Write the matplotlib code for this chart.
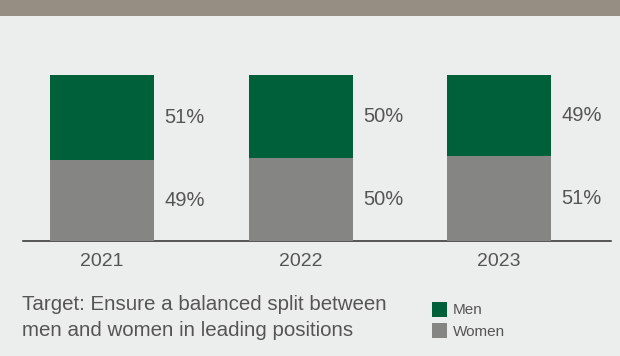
import matplotlib.pyplot as plt
from matplotlib.patches import Rectangle

# share of leading positions by gender, per year
years = ['2021', '2022', '2023']
women = [49, 50, 51]
men = [51, 50, 49]
series_names = ['Men', 'Women']
note_lines = ['Target: Ensure a balanced split between',
              'men and women in leading positions']

green = '#006039'
grey = '#858584'
bg = '#eceeed'
band = '#968d83'
txt = '#555555'

plt.rcParams['font.family'] = ['Liberation Sans', 'DejaVu Sans']

W, H = 620, 356
fig = plt.figure(figsize=(W / 100, H / 100), dpi=100, facecolor=bg)

# header strip along the top edge
fig.add_artist(Rectangle((0, 1 - 16 / H), 1, 16 / H, transform=fig.transFigure,
                         facecolor=band, edgecolor='none'))

ax = fig.add_axes([23 / W, 115 / H, 588 / W, 166 / H])
ax.set_facecolor(bg)
x = range(len(years))
bw = 0.524
ax.bar(x, women, bw, color=grey, zorder=3)
ax.bar(x, men, bw, bottom=women, color=green, zorder=3)

ax.set_xlim(-0.398, 2.564)
ax.set_ylim(0, 100)
for s in ['top', 'right', 'left']:
    ax.spines[s].set_visible(False)
ax.spines['bottom'].set_color('#2b2b2b')
ax.spines['bottom'].set_linewidth(1.1)
ax.set_yticks([])
ax.set_xticks([])

# percentage labels to the right of each segment, year labels below
for i in x:
    ax.annotate(f'{women[i]}%', (i + bw / 2, women[i] / 2), xytext=(7.5, 0),
                textcoords='offset points', ha='left', va='center',
                fontsize=14.5, color=txt)
    ax.annotate(f'{men[i]}%', (i + bw / 2, women[i] + men[i] / 2), xytext=(7.5, 0),
                textcoords='offset points', ha='left', va='center',
                fontsize=14.5, color=txt)
    ax.annotate(years[i], (i, 0), xytext=(0, -14.4), textcoords='offset points',
                ha='center', va='center', fontsize=14, color=txt,
                annotation_clip=False)

# target note
for k, line in enumerate(note_lines):
    fig.text(22 / W, 1 - (305 + 25 * k) / H, line, ha='left', va='center',
             fontsize=14.8, color=txt)

# legend
for k, (name, col) in enumerate(zip(series_names, [green, grey])):
    top = 302 + 21 * k
    fig.add_artist(Rectangle((432 / W, 1 - (top + 15) / H), 15 / W, 15 / H,
                             transform=fig.transFigure, facecolor=col,
                             edgecolor='none'))
    fig.text(453 / W, 1 - (top + 8.5) / H, name, ha='left', va='center',
             fontsize=11, color=txt)

fig.savefig('out.png', dpi=100, facecolor=bg)
